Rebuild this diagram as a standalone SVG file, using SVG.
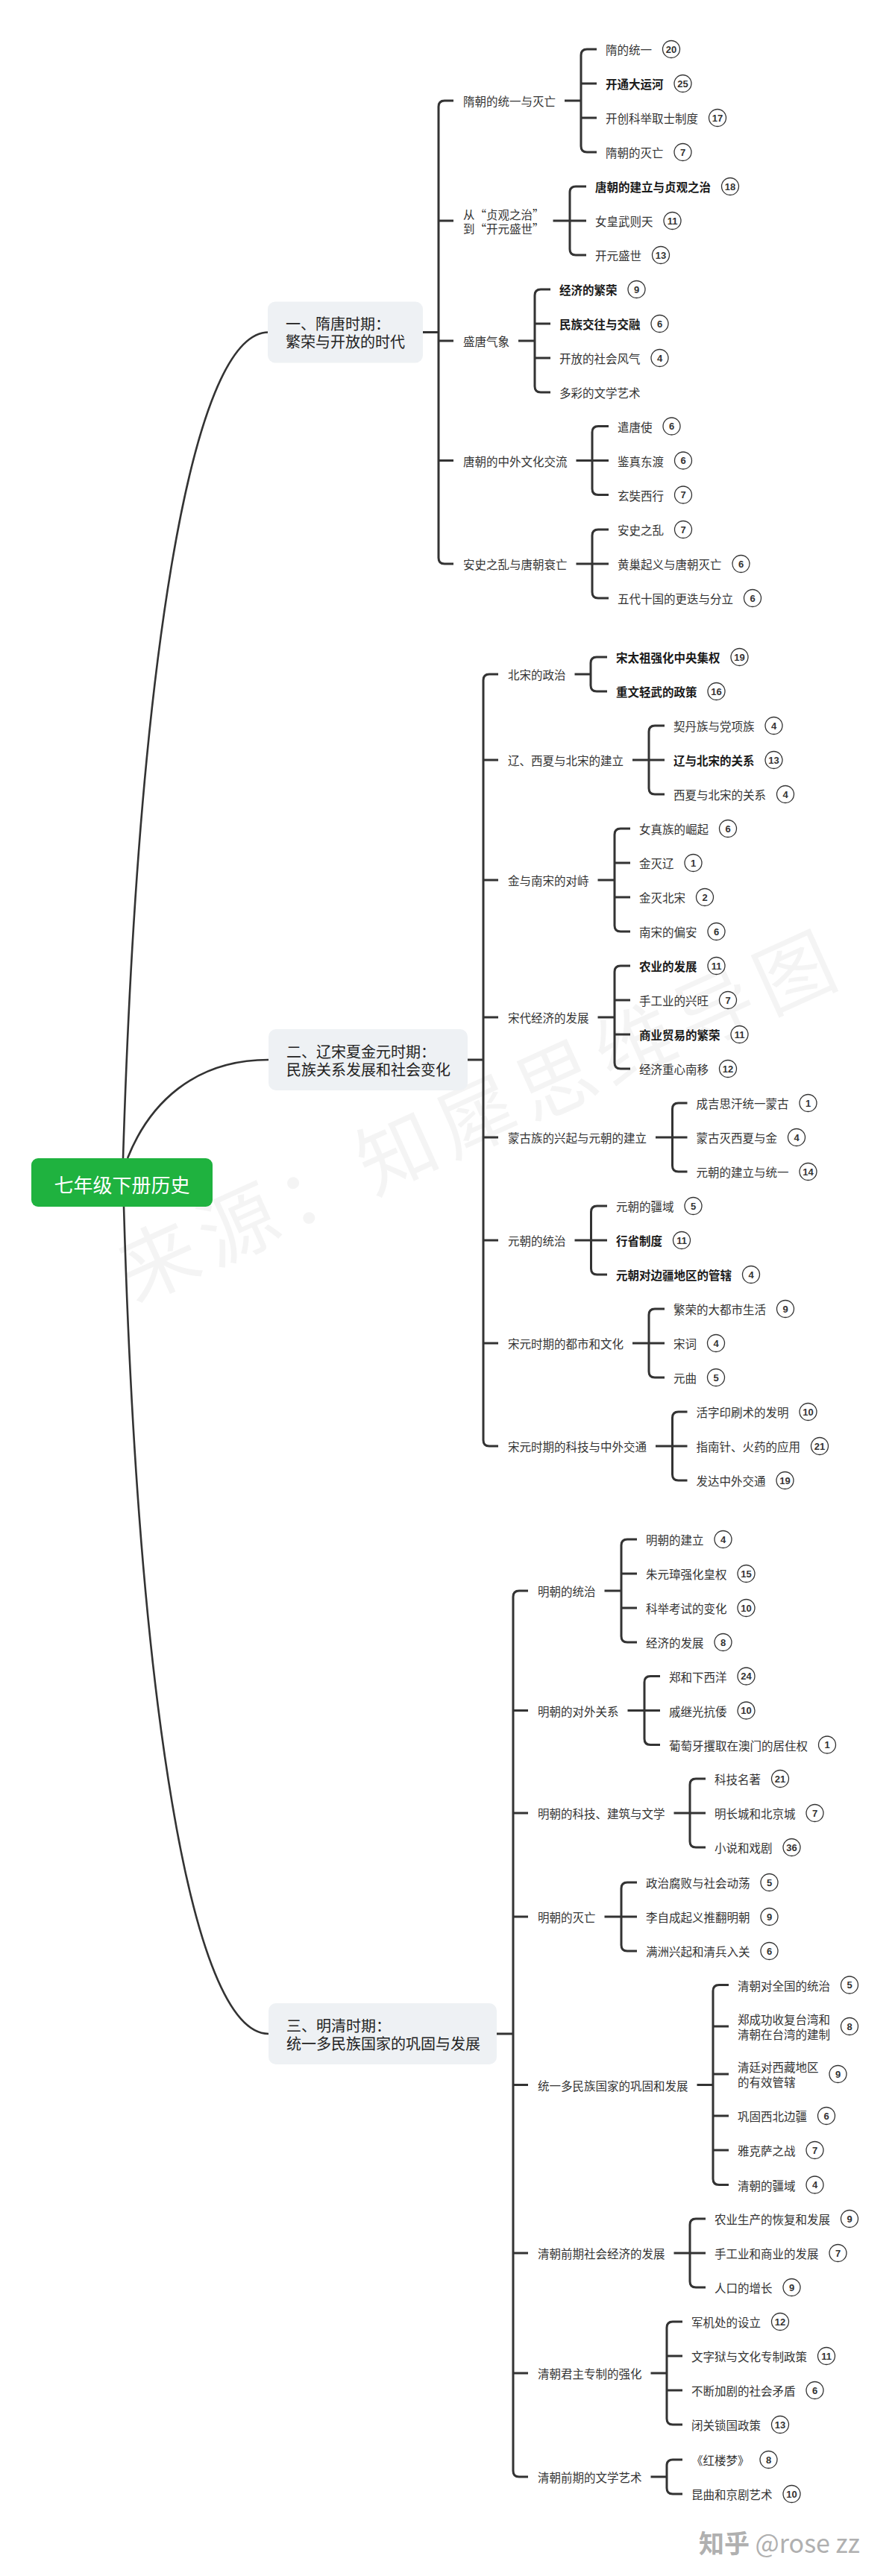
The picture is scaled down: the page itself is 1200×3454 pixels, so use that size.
<svg xmlns="http://www.w3.org/2000/svg" width="1200" height="3454" viewBox="0 0 1200 3454">
<style>
.ln{fill:none;stroke:#333;stroke-width:3}
.cv{fill:none;stroke:#333;stroke-width:2.6}
.t{font-family:"Noto Sans CJK SC","Noto Sans",sans-serif;font-size:15.5px;fill:#333;dominant-baseline:central}
.b{font-weight:bold;fill:#1a1a1a}
.c{fill:#fff;stroke:#333;stroke-width:1.3}
.n{font-family:"Liberation Sans",Arial,sans-serif;font-size:13px;font-weight:bold;fill:#333;text-anchor:middle;dominant-baseline:central}
.sec{fill:#eef1f4}
.st{font-family:"Noto Sans CJK SC","Noto Sans",sans-serif;font-size:20px;fill:#222;dominant-baseline:central}
.wm{font-family:"Noto Sans CJK SC",sans-serif;font-size:105px;fill:#000;fill-opacity:0.045;letter-spacing:12px;text-anchor:middle;dominant-baseline:central}
</style>
<rect width="1200" height="3454" fill="#fff"/>
<text class="wm" x="641" y="1488" transform="rotate(-24.4 641 1488)">来源：知犀思维导图</text>

<g id="connectors">
<path class="cv" d="M165 1553C185 900 255 445.5 360 445.5"/>
<path class="cv" d="M171 1553C200 1480 260 1421 360 1421"/>
<path class="cv" d="M166 1618C185 2271 255 2727 360 2727"/>
<path class="ln" d="M608 135H596Q588 135 588 143V748Q588 756 596 756H608M588 296H608M588 457H608M588 617.5H608M567 445.5H588"/>
<path class="ln" d="M757 135H779M800 66H787Q779 66 779 74V196Q779 204 787 204H800M779 112H800M779 158H800"/>
<path class="ln" d="M741.5 296H764M786 250H772Q764 250 764 258V334Q764 342 772 342H786M764 296H786"/>
<path class="ln" d="M695 457H717M738 388H725Q717 388 717 396V518Q717 526 725 526H738M717 434H738M717 480H738"/>
<path class="ln" d="M772.5 617.5H794M816 571.5H802Q794 571.5 794 579.5V655.5Q794 663.5 802 663.5H816M794 617.5H816"/>
<path class="ln" d="M772.5 756H794M816 710H802Q794 710 794 718V794Q794 802 802 802H816M794 756H816"/>
<path class="ln" d="M668 904H656Q648 904 648 912V1931Q648 1939 656 1939H668M648 1019H668M648 1180H668M648 1364H668M648 1525H668M648 1663H668M648 1801H668M627 1421H648"/>
<path class="ln" d="M770.5 904H792M814 881H800Q792 881 792 889V919Q792 927 800 927H814"/>
<path class="ln" d="M848 1019H870M891 973H878Q870 973 870 981V1057Q870 1065 878 1065H891M870 1019H891"/>
<path class="ln" d="M801.5 1180H824M845 1111H832Q824 1111 824 1119V1241Q824 1249 832 1249H845M824 1157H845M824 1203H845"/>
<path class="ln" d="M801.5 1364H824M845 1295H832Q824 1295 824 1303V1425Q824 1433 832 1433H845M824 1341H845M824 1387H845"/>
<path class="ln" d="M879 1525H901.5M921.5 1479H909.5Q901.5 1479 901.5 1487V1563Q901.5 1571 909.5 1571H921.5M901.5 1525H921.5"/>
<path class="ln" d="M770.5 1663H792.5M814 1617H800.5Q792.5 1617 792.5 1625V1701Q792.5 1709 800.5 1709H814M792.5 1663H814"/>
<path class="ln" d="M848 1801H870M891 1755H878Q870 1755 870 1763V1839Q870 1847 878 1847H891M870 1801H891"/>
<path class="ln" d="M879 1939H901.5M921.5 1893H909.5Q901.5 1893 901.5 1901V1977Q901.5 1985 909.5 1985H921.5M901.5 1939H921.5"/>
<path class="ln" d="M708 2133H696Q688 2133 688 2141V3313Q688 3321 696 3321H708M688 2293.5H708M688 2431H708M688 2570H708M688 2795.5H708M688 3021H708M688 3182H708M666 2727H688"/>
<path class="ln" d="M810.5 2133H833M854 2064H841Q833 2064 833 2072V2194Q833 2202 841 2202H854M833 2110H854M833 2156H854"/>
<path class="ln" d="M841.5 2293.5H864M885 2247.5H872Q864 2247.5 864 2255.5V2331.5Q864 2339.5 872 2339.5H885M864 2293.5H885"/>
<path class="ln" d="M903.5 2431H925M946 2385H933Q925 2385 925 2393V2469Q925 2477 933 2477H946M925 2431H946"/>
<path class="ln" d="M810.5 2570H833M854 2524H841Q833 2524 833 2532V2608Q833 2616 841 2616H854M833 2570H854"/>
<path class="ln" d="M934.5 2795.5H956M977 2661.5H964Q956 2661.5 956 2669.5V2921.5Q956 2929.5 964 2929.5H977M956 2717H977M956 2781H977M956 2837H977M956 2883H977"/>
<path class="ln" d="M903.5 3021H925M946 2975H933Q925 2975 925 2983V3059Q925 3067 933 3067H946M925 3021H946"/>
<path class="ln" d="M872.5 3182H894M915 3113H902Q894 3113 894 3121V3243Q894 3251 902 3251H915M894 3159H915M894 3205H915"/>
<path class="ln" d="M872.5 3321H894M915 3298H902Q894 3298 894 3306V3336Q894 3344 902 3344H915"/>
</g>

<g id="root">
<rect x="42" y="1553" width="243" height="65" rx="9" fill="#1fb23f"/>
<text x="163.5" y="1587" font-family="'Noto Sans CJK SC',sans-serif" font-size="26" fill="#fff" text-anchor="middle" dominant-baseline="central">七年级下册历史</text>
</g>

<g id="s1">
<rect class="sec" x="359" y="404.5" width="208" height="82" rx="10"/>
<text class="st" x="383" y="433.5">一、隋唐时期：</text>
<text class="st" x="383" y="457.5">繁荣与开放的时代</text>
</g>
<g id="s2">
<rect class="sec" x="360" y="1380" width="267" height="82" rx="10"/>
<text class="st" x="384" y="1409">二、辽宋夏金元时期：</text>
<text class="st" x="384" y="1433">民族关系发展和社会变化</text>
</g>
<g id="s3">
<rect class="sec" x="360" y="2686" width="306" height="82" rx="10"/>
<text class="st" x="384" y="2715">三、明清时期：</text>
<text class="st" x="384" y="2739">统一多民族国家的巩固与发展</text>
</g>

<g id="s1-1"><text class="t" x="621" y="135">隋朝的统一与灭亡</text></g>
<g id="s1-1-1"><text class="t" x="812" y="66">隋的统一</text><circle class="c" cx="900" cy="66" r="11.5"/><text class="n" x="900" y="66">20</text></g>
<g id="s1-1-2"><text class="t b" x="812" y="112">开通大运河</text><circle class="c" cx="915.5" cy="112" r="11.5"/><text class="n" x="915.5" y="112">25</text></g>
<g id="s1-1-3"><text class="t" x="812" y="158">开创科举取士制度</text><circle class="c" cx="962" cy="158" r="11.5"/><text class="n" x="962" y="158">17</text></g>
<g id="s1-1-4"><text class="t" x="812" y="204">隋朝的灭亡</text><circle class="c" cx="915.5" cy="204" r="11.5"/><text class="n" x="915.5" y="204">7</text></g>

<g id="s1-2"><text class="t" x="621" y="286.5">从“贞观之治”</text><text class="t" x="621" y="305.5">到“开元盛世”</text></g>
<g id="s1-2-1"><text class="t b" x="798" y="250">唐朝的建立与贞观之治</text><circle class="c" cx="979" cy="250" r="11.5"/><text class="n" x="979" y="250">18</text></g>
<g id="s1-2-2"><text class="t" x="798" y="296">女皇武则天</text><circle class="c" cx="901.5" cy="296" r="11.5"/><text class="n" x="901.5" y="296">11</text></g>
<g id="s1-2-3"><text class="t" x="798" y="342">开元盛世</text><circle class="c" cx="886" cy="342" r="11.5"/><text class="n" x="886" y="342">13</text></g>

<g id="s1-3"><text class="t" x="621" y="457">盛唐气象</text></g>
<g id="s1-3-1"><text class="t b" x="750" y="388">经济的繁荣</text><circle class="c" cx="853.5" cy="388" r="11.5"/><text class="n" x="853.5" y="388">9</text></g>
<g id="s1-3-2"><text class="t b" x="750" y="434">民族交往与交融</text><circle class="c" cx="884.5" cy="434" r="11.5"/><text class="n" x="884.5" y="434">6</text></g>
<g id="s1-3-3"><text class="t" x="750" y="480">开放的社会风气</text><circle class="c" cx="884.5" cy="480" r="11.5"/><text class="n" x="884.5" y="480">4</text></g>
<g id="s1-3-4"><text class="t" x="750" y="526">多彩的文学艺术</text></g>

<g id="s1-4"><text class="t" x="621" y="617.5">唐朝的中外文化交流</text></g>
<g id="s1-4-1"><text class="t" x="828" y="571.5">遣唐使</text><circle class="c" cx="900.5" cy="571.5" r="11.5"/><text class="n" x="900.5" y="571.5">6</text></g>
<g id="s1-4-2"><text class="t" x="828" y="617.5">鉴真东渡</text><circle class="c" cx="916" cy="617.5" r="11.5"/><text class="n" x="916" y="617.5">6</text></g>
<g id="s1-4-3"><text class="t" x="828" y="663.5">玄奘西行</text><circle class="c" cx="916" cy="663.5" r="11.5"/><text class="n" x="916" y="663.5">7</text></g>

<g id="s1-5"><text class="t" x="621" y="756">安史之乱与唐朝衰亡</text></g>
<g id="s1-5-1"><text class="t" x="828" y="710">安史之乱</text><circle class="c" cx="916" cy="710" r="11.5"/><text class="n" x="916" y="710">7</text></g>
<g id="s1-5-2"><text class="t" x="828" y="756">黄巢起义与唐朝灭亡</text><circle class="c" cx="993.5" cy="756" r="11.5"/><text class="n" x="993.5" y="756">6</text></g>
<g id="s1-5-3"><text class="t" x="828" y="802">五代十国的更迭与分立</text><circle class="c" cx="1009" cy="802" r="11.5"/><text class="n" x="1009" y="802">6</text></g>

<g id="s2-1"><text class="t" x="681" y="904">北宋的政治</text></g>
<g id="s2-1-1"><text class="t b" x="826" y="881">宋太祖强化中央集权</text><circle class="c" cx="991.5" cy="881" r="11.5"/><text class="n" x="991.5" y="881">19</text></g>
<g id="s2-1-2"><text class="t b" x="826" y="927">重文轻武的政策</text><circle class="c" cx="960.5" cy="927" r="11.5"/><text class="n" x="960.5" y="927">16</text></g>

<g id="s2-2"><text class="t" x="681" y="1019">辽、西夏与北宋的建立</text></g>
<g id="s2-2-1"><text class="t" x="903" y="973">契丹族与党项族</text><circle class="c" cx="1037.5" cy="973" r="11.5"/><text class="n" x="1037.5" y="973">4</text></g>
<g id="s2-2-2"><text class="t b" x="903" y="1019">辽与北宋的关系</text><circle class="c" cx="1037.5" cy="1019" r="11.5"/><text class="n" x="1037.5" y="1019">13</text></g>
<g id="s2-2-3"><text class="t" x="903" y="1065">西夏与北宋的关系</text><circle class="c" cx="1053" cy="1065" r="11.5"/><text class="n" x="1053" y="1065">4</text></g>

<g id="s2-3"><text class="t" x="681" y="1180">金与南宋的对峙</text></g>
<g id="s2-3-1"><text class="t" x="857" y="1111">女真族的崛起</text><circle class="c" cx="976" cy="1111" r="11.5"/><text class="n" x="976" y="1111">6</text></g>
<g id="s2-3-2"><text class="t" x="857" y="1157">金灭辽</text><circle class="c" cx="929.5" cy="1157" r="11.5"/><text class="n" x="929.5" y="1157">1</text></g>
<g id="s2-3-3"><text class="t" x="857" y="1203">金灭北宋</text><circle class="c" cx="945" cy="1203" r="11.5"/><text class="n" x="945" y="1203">2</text></g>
<g id="s2-3-4"><text class="t" x="857" y="1249">南宋的偏安</text><circle class="c" cx="960.5" cy="1249" r="11.5"/><text class="n" x="960.5" y="1249">6</text></g>

<g id="s2-4"><text class="t" x="681" y="1364">宋代经济的发展</text></g>
<g id="s2-4-1"><text class="t b" x="857" y="1295">农业的发展</text><circle class="c" cx="960.5" cy="1295" r="11.5"/><text class="n" x="960.5" y="1295">11</text></g>
<g id="s2-4-2"><text class="t" x="857" y="1341">手工业的兴旺</text><circle class="c" cx="976" cy="1341" r="11.5"/><text class="n" x="976" y="1341">7</text></g>
<g id="s2-4-3"><text class="t b" x="857" y="1387">商业贸易的繁荣</text><circle class="c" cx="991.5" cy="1387" r="11.5"/><text class="n" x="991.5" y="1387">11</text></g>
<g id="s2-4-4"><text class="t" x="857" y="1433">经济重心南移</text><circle class="c" cx="976" cy="1433" r="11.5"/><text class="n" x="976" y="1433">12</text></g>

<g id="s2-5"><text class="t" x="681" y="1525">蒙古族的兴起与元朝的建立</text></g>
<g id="s2-5-1"><text class="t" x="933.5" y="1479">成吉思汗统一蒙古</text><circle class="c" cx="1083.5" cy="1479" r="11.5"/><text class="n" x="1083.5" y="1479">1</text></g>
<g id="s2-5-2"><text class="t" x="933.5" y="1525">蒙古灭西夏与金</text><circle class="c" cx="1068" cy="1525" r="11.5"/><text class="n" x="1068" y="1525">4</text></g>
<g id="s2-5-3"><text class="t" x="933.5" y="1571">元朝的建立与统一</text><circle class="c" cx="1083.5" cy="1571" r="11.5"/><text class="n" x="1083.5" y="1571">14</text></g>

<g id="s2-6"><text class="t" x="681" y="1663">元朝的统治</text></g>
<g id="s2-6-1"><text class="t" x="826" y="1617">元朝的疆域</text><circle class="c" cx="929.5" cy="1617" r="11.5"/><text class="n" x="929.5" y="1617">5</text></g>
<g id="s2-6-2"><text class="t b" x="826" y="1663">行省制度</text><circle class="c" cx="914" cy="1663" r="11.5"/><text class="n" x="914" y="1663">11</text></g>
<g id="s2-6-3"><text class="t b" x="826" y="1709">元朝对边疆地区的管辖</text><circle class="c" cx="1007" cy="1709" r="11.5"/><text class="n" x="1007" y="1709">4</text></g>

<g id="s2-7"><text class="t" x="681" y="1801">宋元时期的都市和文化</text></g>
<g id="s2-7-1"><text class="t" x="903" y="1755">繁荣的大都市生活</text><circle class="c" cx="1053" cy="1755" r="11.5"/><text class="n" x="1053" y="1755">9</text></g>
<g id="s2-7-2"><text class="t" x="903" y="1801">宋词</text><circle class="c" cx="960" cy="1801" r="11.5"/><text class="n" x="960" y="1801">4</text></g>
<g id="s2-7-3"><text class="t" x="903" y="1847">元曲</text><circle class="c" cx="960" cy="1847" r="11.5"/><text class="n" x="960" y="1847">5</text></g>

<g id="s2-8"><text class="t" x="681" y="1939">宋元时期的科技与中外交通</text></g>
<g id="s2-8-1"><text class="t" x="933.5" y="1893">活字印刷术的发明</text><circle class="c" cx="1083.5" cy="1893" r="11.5"/><text class="n" x="1083.5" y="1893">10</text></g>
<g id="s2-8-2"><text class="t" x="933.5" y="1939">指南针、火药的应用</text><circle class="c" cx="1099" cy="1939" r="11.5"/><text class="n" x="1099" y="1939">21</text></g>
<g id="s2-8-3"><text class="t" x="933.5" y="1985">发达中外交通</text><circle class="c" cx="1052.5" cy="1985" r="11.5"/><text class="n" x="1052.5" y="1985">19</text></g>

<g id="s3-1"><text class="t" x="721" y="2133">明朝的统治</text></g>
<g id="s3-1-1"><text class="t" x="866" y="2064">明朝的建立</text><circle class="c" cx="969.5" cy="2064" r="11.5"/><text class="n" x="969.5" y="2064">4</text></g>
<g id="s3-1-2"><text class="t" x="866" y="2110">朱元璋强化皇权</text><circle class="c" cx="1000.5" cy="2110" r="11.5"/><text class="n" x="1000.5" y="2110">15</text></g>
<g id="s3-1-3"><text class="t" x="866" y="2156">科举考试的变化</text><circle class="c" cx="1000.5" cy="2156" r="11.5"/><text class="n" x="1000.5" y="2156">10</text></g>
<g id="s3-1-4"><text class="t" x="866" y="2202">经济的发展</text><circle class="c" cx="969.5" cy="2202" r="11.5"/><text class="n" x="969.5" y="2202">8</text></g>

<g id="s3-2"><text class="t" x="721" y="2293.5">明朝的对外关系</text></g>
<g id="s3-2-1"><text class="t" x="897" y="2247.5">郑和下西洋</text><circle class="c" cx="1000.5" cy="2247.5" r="11.5"/><text class="n" x="1000.5" y="2247.5">24</text></g>
<g id="s3-2-2"><text class="t" x="897" y="2293.5">戚继光抗倭</text><circle class="c" cx="1000.5" cy="2293.5" r="11.5"/><text class="n" x="1000.5" y="2293.5">10</text></g>
<g id="s3-2-3"><text class="t" x="897" y="2339.5">葡萄牙攫取在澳门的居住权</text><circle class="c" cx="1109" cy="2339.5" r="11.5"/><text class="n" x="1109" y="2339.5">1</text></g>

<g id="s3-3"><text class="t" x="721" y="2431">明朝的科技、建筑与文学</text></g>
<g id="s3-3-1"><text class="t" x="958" y="2385">科技名著</text><circle class="c" cx="1046" cy="2385" r="11.5"/><text class="n" x="1046" y="2385">21</text></g>
<g id="s3-3-2"><text class="t" x="958" y="2431">明长城和北京城</text><circle class="c" cx="1092.5" cy="2431" r="11.5"/><text class="n" x="1092.5" y="2431">7</text></g>
<g id="s3-3-3"><text class="t" x="958" y="2477">小说和戏剧</text><circle class="c" cx="1061.5" cy="2477" r="11.5"/><text class="n" x="1061.5" y="2477">36</text></g>

<g id="s3-4"><text class="t" x="721" y="2570">明朝的灭亡</text></g>
<g id="s3-4-1"><text class="t" x="866" y="2524">政治腐败与社会动荡</text><circle class="c" cx="1031.5" cy="2524" r="11.5"/><text class="n" x="1031.5" y="2524">5</text></g>
<g id="s3-4-2"><text class="t" x="866" y="2570">李自成起义推翻明朝</text><circle class="c" cx="1031.5" cy="2570" r="11.5"/><text class="n" x="1031.5" y="2570">9</text></g>
<g id="s3-4-3"><text class="t" x="866" y="2616">满洲兴起和清兵入关</text><circle class="c" cx="1031.5" cy="2616" r="11.5"/><text class="n" x="1031.5" y="2616">6</text></g>

<g id="s3-5"><text class="t" x="721" y="2795.5">统一多民族国家的巩固和发展</text></g>
<g id="s3-5-1"><text class="t" x="989" y="2661.5">清朝对全国的统治</text><circle class="c" cx="1139" cy="2661.5" r="11.5"/><text class="n" x="1139" y="2661.5">5</text></g>
<g id="s3-5-2"><text class="t" x="989" y="2707">郑成功收复台湾和</text><text class="t" x="989" y="2727">清朝在台湾的建制</text><circle class="c" cx="1139" cy="2717" r="11.5"/><text class="n" x="1139" y="2717">8</text></g>
<g id="s3-5-3"><text class="t" x="989" y="2771">清廷对西藏地区</text><text class="t" x="989" y="2791">的有效管辖</text><circle class="c" cx="1123.5" cy="2781" r="11.5"/><text class="n" x="1123.5" y="2781">9</text></g>
<g id="s3-5-4"><text class="t" x="989" y="2837">巩固西北边疆</text><circle class="c" cx="1108" cy="2837" r="11.5"/><text class="n" x="1108" y="2837">6</text></g>
<g id="s3-5-5"><text class="t" x="989" y="2883">雅克萨之战</text><circle class="c" cx="1092.5" cy="2883" r="11.5"/><text class="n" x="1092.5" y="2883">7</text></g>
<g id="s3-5-6"><text class="t" x="989" y="2929.5">清朝的疆域</text><circle class="c" cx="1092.5" cy="2929.5" r="11.5"/><text class="n" x="1092.5" y="2929.5">4</text></g>

<g id="s3-6"><text class="t" x="721" y="3021">清朝前期社会经济的发展</text></g>
<g id="s3-6-1"><text class="t" x="958" y="2975">农业生产的恢复和发展</text><circle class="c" cx="1139" cy="2975" r="11.5"/><text class="n" x="1139" y="2975">9</text></g>
<g id="s3-6-2"><text class="t" x="958" y="3021">手工业和商业的发展</text><circle class="c" cx="1123.5" cy="3021" r="11.5"/><text class="n" x="1123.5" y="3021">7</text></g>
<g id="s3-6-3"><text class="t" x="958" y="3067">人口的增长</text><circle class="c" cx="1061.5" cy="3067" r="11.5"/><text class="n" x="1061.5" y="3067">9</text></g>

<g id="s3-7"><text class="t" x="721" y="3182">清朝君主专制的强化</text></g>
<g id="s3-7-1"><text class="t" x="927" y="3113">军机处的设立</text><circle class="c" cx="1046" cy="3113" r="11.5"/><text class="n" x="1046" y="3113">12</text></g>
<g id="s3-7-2"><text class="t" x="927" y="3159">文字狱与文化专制政策</text><circle class="c" cx="1108" cy="3159" r="11.5"/><text class="n" x="1108" y="3159">11</text></g>
<g id="s3-7-3"><text class="t" x="927" y="3205">不断加剧的社会矛盾</text><circle class="c" cx="1092.5" cy="3205" r="11.5"/><text class="n" x="1092.5" y="3205">6</text></g>
<g id="s3-7-4"><text class="t" x="927" y="3251">闭关锁国政策</text><circle class="c" cx="1046" cy="3251" r="11.5"/><text class="n" x="1046" y="3251">13</text></g>

<g id="s3-8"><text class="t" x="721" y="3321">清朝前期的文学艺术</text></g>
<g id="s3-8-1"><text class="t" x="927" y="3298">《红楼梦》</text><circle class="c" cx="1030.5" cy="3298" r="11.5"/><text class="n" x="1030.5" y="3298">8</text></g>
<g id="s3-8-2"><text class="t" x="927" y="3344">昆曲和京剧艺术</text><circle class="c" cx="1061.5" cy="3344" r="11.5"/><text class="n" x="1061.5" y="3344">10</text></g>

<text x="937" y="3408" font-family="'Noto Sans CJK SC',sans-serif" font-size="34" fill="#b0b0b0" dominant-baseline="central"><tspan font-weight="bold">知乎</tspan> @rose zz</text>
</svg>
